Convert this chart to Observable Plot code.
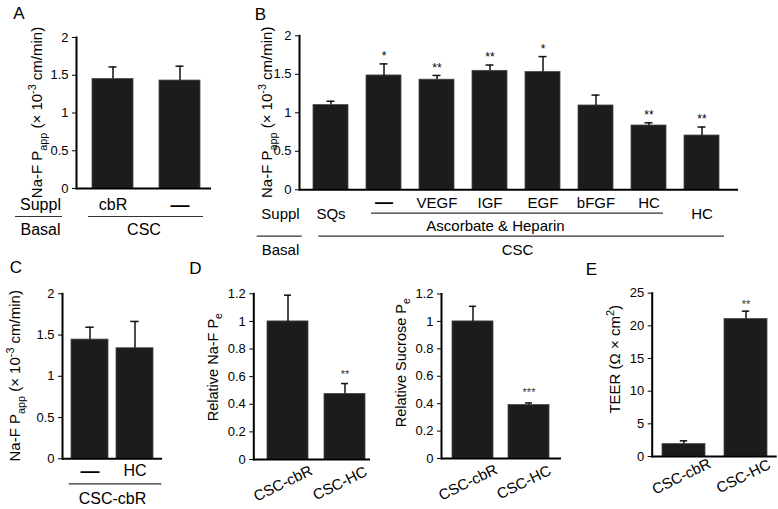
<!DOCTYPE html>
<html><head><meta charset="utf-8">
<script src="https://cdn.jsdelivr.net/npm/d3@7"></script>
<script src="https://cdn.jsdelivr.net/npm/@observablehq/plot@0.6"></script>
<style>
body{margin:0;background:#fff;}
#fig{position:relative;width:778px;height:509px;overflow:hidden;background:#fff;}
#fig svg{position:absolute;overflow:visible;}
</style></head><body><div id="fig"></div>
<script>
// ---------- data ----------
const panelA_categories = ["cbR", "—"];
const panelA_values = [1.45, 1.43];
const panelA_errors = [0.16, 0.19];
const panelA_yTicks = [0, 0.5, 1, 1.5, 2];

const panelB_ids = ["SQs", "AH", "AH+VEGF", "AH+IGF", "AH+EGF", "AH+bFGF", "AH+HC", "HC"];
const panelB_labels = ["SQs", "—", "VEGF", "IGF", "EGF", "bFGF", "HC", "HC"];
const panelB_level = ["outer", "inner", "inner", "inner", "inner", "inner", "inner", "outer"];
const panelB_values = [1.10, 1.485, 1.43, 1.545, 1.53, 1.095, 0.835, 0.705];
const panelB_errors = [0.05, 0.15, 0.055, 0.075, 0.20, 0.135, 0.035, 0.11];
const panelB_sig = ["", "*", "**", "**", "*", "", "**", "**"];
const panelB_yTicks = [0, 0.5, 1, 1.5, 2];

const panelC_categories = ["—", "HC"];
const panelC_values = [1.445, 1.34];
const panelC_errors = [0.15, 0.325];
const panelC_yTicks = [0, 0.5, 1, 1.5, 2];

const panelD_categories = ["CSC-cbR", "CSC-HC"];
const panelD_naf_values = [1.0, 0.475];
const panelD_naf_errors = [0.19, 0.075];
const panelD_naf_sig = ["", "**"];
const panelD_sucrose_values = [1.0, 0.39];
const panelD_sucrose_errors = [0.11, 0.015];
const panelD_sucrose_sig = ["", "***"];
const panelD_yTicks = [0, 0.2, 0.4, 0.6, 0.8, 1, 1.2];

const panelE_categories = ["CSC-cbR", "CSC-HC"];
const panelE_values = [1.9, 21.05];
const panelE_errors = [0.5, 1.2];
const panelE_sig = ["", "**"];
const panelE_yTicks = [0, 5, 10, 15, 20, 25];

// ---------- helpers ----------
const FONT = '"Liberation Sans", Arial, Helvetica, sans-serif';
const BAR = "#1c1c1c";
const fig = document.getElementById("fig");

function rows(cats, vals, errs, sig, labels, level) {
  return cats.map((c, i) => ({cat: c, v: vals[i], top: vals[i] + errs[i],
    sig: sig ? sig[i] : "", label: labels ? labels[i] : c, level: level ? level[i] : ""}));
}

function panel(g, data, yDomain, yTicks, capInset, extra) {
  const p = Plot.plot({
    width: g.w, height: g.h,
    marginLeft: g.ml, marginRight: g.mr, marginTop: g.mt, marginBottom: g.mb,
    style: {fontFamily: FONT, fontSize: "13px", background: "transparent", color: "black", overflow: "visible"},
    x: {domain: data.map(d => d.cat), axis: null, paddingInner: g.pi, paddingOuter: g.po, align: g.align ?? 0.5},
    y: {domain: yDomain, ticks: yTicks, tickFormat: d3.format("~g"), tickSize: 4, tickPadding: 4, label: null},
    marks: [
      Plot.barY(data, {x: "cat", y: "v", fill: BAR, stroke: "#4a4a4a", strokeWidth: 0.8}),
      Plot.ruleX(data, {x: "cat", y1: "v", y2: "top", strokeWidth: 1.5, stroke: "#111"}),
      Plot.tickY(data, {x: "cat", y: "top", strokeWidth: 1.5, stroke: "#111", insetLeft: capInset, insetRight: capInset}),
      Plot.ruleY([0], {strokeWidth: 2}),
      Plot.frame({anchor: "left", strokeWidth: 2}),
      ...extra
    ]
  });
  p.style.left = g.left + "px";
  p.style.top = g.top + "px";
  fig.append(p);
  return p;
}

function richLabel(svg, cx, cy, parts, size) {
  const t = d3.select(svg).append("text")
    .attr("transform", `translate(${cx + size * 0.35},${cy}) rotate(-90)`)
    .attr("text-anchor", "middle").attr("font-size", size)
    .attr("font-family", FONT).attr("fill", "black");
  let shift = 0;
  for (const [s, kind] of parts) {
    const target = kind === "sub" ? size * 0.3 : kind === "sup" ? -size * 0.4 : 0;
    t.append("tspan").attr("dy", target - shift).attr("font-size", kind ? size * 0.72 : size).text(s);
    shift = target;
  }
}

function letter(svg, x, y, s) {
  d3.select(svg).append("text").attr("x", x).attr("y", y).attr("text-anchor", "middle")
    .attr("font-size", 17).attr("font-family", FONT).attr("fill", "black").text(s);
}

const naf = [["Na-F P", ""], ["app", "sub"], [" (× 10", ""], ["-3", "sup"], [" cm/min)", ""]];
const lineStyle = {strokeWidth: 1.2, stroke: "#333"};
const lbl = (o) => ({lineAnchor: "middle", textAnchor: "middle", ...o});

// ---------- Panel A ----------
{
  const data = rows(panelA_categories, panelA_values, panelA_errors);
  const g = {left: 0, top: 0, w: 230, h: 245, ml: 76, mr: 19, mt: 37, mb: 57, pi: 0.39, po: 0.19, align: 0.6};
  const svg = panel(g, data, [0, 2], panelA_yTicks, 16.5, [
    Plot.text(data.filter(d => d.cat !== "—"), lbl({x: "cat", text: "label", frameAnchor: "bottom", dy: 16, fontSize: 16})),
    Plot.text(data.filter(d => d.cat === "—"), lbl({x: "cat", text: "label", frameAnchor: "bottom", dy: 16, fontSize: 19, fontWeight: "bold"})),
    Plot.text(["Suppl"], lbl({text: d => d, frameAnchor: "bottom-left", dx: -36, dy: 16, fontSize: 16})),
    Plot.ruleY([0], {...lineStyle, dy: 28, insetLeft: -61, insetRight: 149}),
    Plot.ruleY([0], {...lineStyle, x1: () => panelA_categories[0], x2: () => panelA_categories[1], dy: 28, insetLeft: -4, insetRight: -3}),
    Plot.text(["Basal"], lbl({text: d => d, frameAnchor: "bottom-left", dx: -36, dy: 41, fontSize: 16})),
    Plot.text(["CSC"], lbl({text: d => d, frameAnchor: "bottom", dy: 41, fontSize: 16}))
  ]);
  richLabel(svg, 37, (g.mt + g.h - g.mb) / 2, naf, 15);
  letter(svg, 19, 19, "A");
}

// ---------- Panel B ----------
{
  const data = rows(panelB_ids, panelB_values, panelB_errors, panelB_sig, panelB_labels, panelB_level);
  const g = {left: 230, top: 0, w: 548, h: 262, ml: 69, mr: 40, mt: 35.3, mb: 72.7, pi: 0.342, po: 0.3, align: 0.42};
  const svg = panel(g, data, [0, 2], panelB_yTicks, 13.5, [
    Plot.text(data.filter(d => d.sig), {x: "cat", y: "top", text: "sig", dy: -7.5, fontSize: 12}),
    Plot.text(data.filter(d => d.level === "inner" && d.label !== "—"), lbl({x: "cat", text: "label", frameAnchor: "bottom", dy: 13.4, fontSize: 15})),
    Plot.text(data.filter(d => d.label === "—"), lbl({x: "cat", text: "label", frameAnchor: "bottom", dy: 12, fontSize: 18, fontWeight: "bold"})),
    Plot.text(data.filter(d => d.level === "outer"), lbl({x: "cat", text: "label", frameAnchor: "bottom", dy: 24.7, fontSize: 15})),
    Plot.text(["Suppl"], lbl({text: d => d, frameAnchor: "bottom-left", dx: -19, dy: 24.7, fontSize: 15})),
    Plot.ruleY([0], {...lineStyle, x1: () => panelB_ids[1], x2: () => panelB_ids[6], dy: 23.4, insetLeft: 5, insetRight: 3}),
    Plot.text(["Ascorbate & Heparin"], lbl({x: () => panelB_ids[3], text: d => d, frameAnchor: "bottom", dx: 5.5, dy: 36, fontSize: 15})),
    Plot.ruleY([0], {...lineStyle, dy: 46.4, insetLeft: -42.3, insetRight: 436.3}),
    Plot.ruleY([0], {...lineStyle, x1: () => panelB_ids[0], x2: () => panelB_ids[7], dy: 46.4, insetLeft: 5.3, insetRight: -5}),
    Plot.text(["Basal"], lbl({text: d => d, frameAnchor: "bottom-left", dx: -19, dy: 60.7, fontSize: 15})),
    Plot.text(["CSC"], lbl({text: d => d, frameAnchor: "bottom", dx: -1.5, dy: 60.7, fontSize: 15}))
  ]);
  richLabel(svg, 37, (g.mt + g.h - g.mb) / 2, naf, 15);
  letter(svg, 30.5, 20, "B");
}

// ---------- Panel C ----------
{
  const data = rows(panelC_categories, panelC_values, panelC_errors);
  const g = {left: 0, top: 250, w: 200, h: 259, ml: 62, mr: 38, mt: 43.3, mb: 50.7, pi: 0.187, po: 0.2045};
  const svg = panel(g, data, [0, 2], panelC_yTicks, 14.3, [
    Plot.text(data.filter(d => d.cat !== "—"), lbl({x: "cat", text: "label", frameAnchor: "bottom", dy: 11.7, fontSize: 16})),
    Plot.text(data.filter(d => d.cat === "—"), lbl({x: "cat", text: "label", frameAnchor: "bottom", dy: 11.7, fontSize: 19, fontWeight: "bold"})),
    Plot.ruleY([0], {...lineStyle, x1: () => panelC_categories[0], x2: () => panelC_categories[1], dy: 25, insetLeft: -2.4, insetRight: -8.4}),
    Plot.text(["CSC-cbR"], lbl({text: d => d, frameAnchor: "bottom", dy: 39.7, fontSize: 16}))
  ]);
  richLabel(svg, 15, (g.mt + g.h - g.mb) / 2, naf, 15);
  letter(svg, 16, 23, "C");
}

// ---------- Panel D (Na-F) ----------
{
  const data = rows(panelD_categories, panelD_naf_values, panelD_naf_errors, panelD_naf_sig);
  const g = {left: 190, top: 250, w: 190, h: 259, ml: 63.3, mr: 10, mt: 43.3, mb: 50, pi: 0.28, po: 0.156, align: 0.75};
  const svg = panel(g, data, [0, 1.2], panelD_yTicks, 17, [
    Plot.text(data.filter(d => d.sig), {x: "cat", y: "top", text: "sig", dy: -9, fontSize: 11, fill: "#333"}),
    Plot.text(data, lbl({x: "cat", text: "label", frameAnchor: "bottom", rotate: -26, dx: -5, dy: 24, fontSize: 15}))
  ]);
  richLabel(svg, 23, (g.mt + g.h - g.mb) / 2 - 9, [["Relative Na-F P", ""], ["e", "sub"]], 14.5);
  letter(svg, 5.5, 23.5, "D");
}

// ---------- Panel D (Sucrose) ----------
{
  const data = rows(panelD_categories, panelD_sucrose_values, panelD_sucrose_errors, panelD_sucrose_sig);
  const g = {left: 380, top: 250, w: 190, h: 259, ml: 61, mr: 9, mt: 43.5, mb: 51, pi: 0.265, po: 0.19};
  const svg = panel(g, data, [0, 1.2], panelD_yTicks, 17, [
    Plot.text(data.filter(d => d.sig), {x: "cat", y: "top", text: "sig", dy: -10.5, fontSize: 11, fill: "#333"}),
    Plot.text(data, lbl({x: "cat", text: "label", frameAnchor: "bottom", rotate: -26, dx: -5, dy: 24, fontSize: 15}))
  ]);
  richLabel(svg, 21, (g.mt + g.h - g.mb) / 2 - 13, [["Relative Sucrose P", ""], ["e", "sub"]], 14.5);
}

// ---------- Panel E ----------
{
  const data = rows(panelE_categories, panelE_values, panelE_errors, panelE_sig);
  const g = {left: 580, top: 250, w: 198, h: 259, ml: 71.7, mr: 1.3, mt: 42.7, mb: 53, pi: 0.3, po: 0.158};
  const svg = panel(g, data, [0, 25], panelE_yTicks, 17.8, [
    Plot.text(data.filter(d => d.sig), {x: "cat", y: "top", text: "sig", dy: -6.5, fontSize: 11, fill: "#333"}),
    Plot.text(data, lbl({x: "cat", text: "label", frameAnchor: "bottom", rotate: -26, dx: -2.5, dy: 20, fontSize: 15}))
  ]);
  richLabel(svg, 35, (g.mt + g.h - g.mb) / 2 - 15, [["TEER (Ω × cm", ""], ["2", "sup"], [")", ""]], 15);
  letter(svg, 11.5, 25, "E");
}
</script></body></html>
